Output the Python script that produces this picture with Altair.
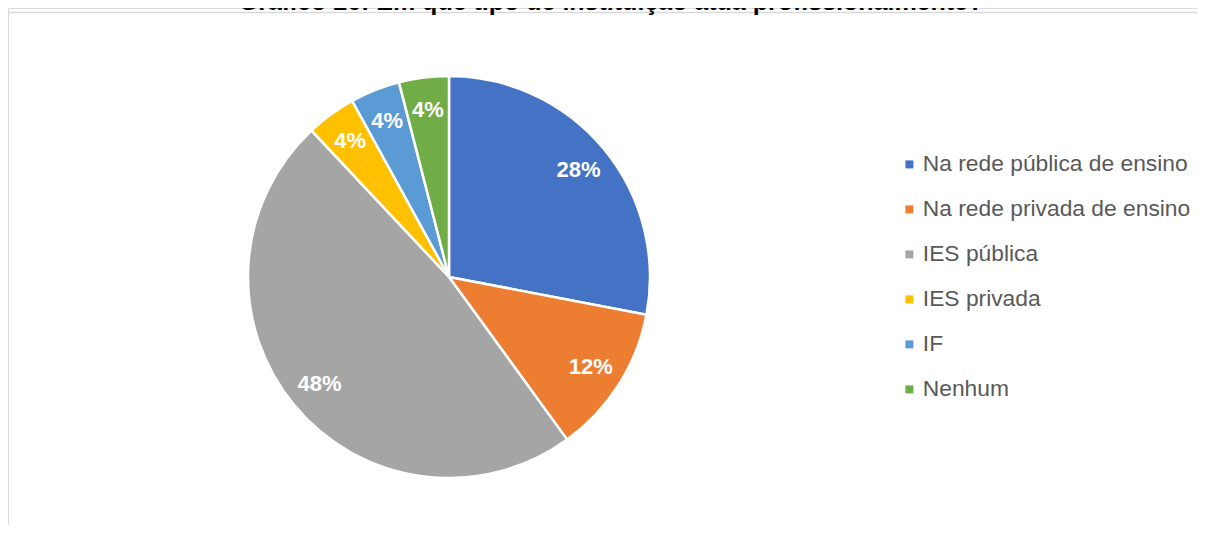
import altair as alt
import pandas as pd

title_text = "Gráfico 26: Em que tipo de instituição atua profissionalmente?"
categories = ["Na rede pública de ensino", "Na rede privada de ensino", "IES pública",
              "IES privada", "IF", "Nenhum"]
values = [28, 12, 48, 4, 4, 4]
labels = ["28%", "12%", "48%", "4%", "4%", "4%"]
colors = ["#4472C4", "#ED7D31", "#A5A5A5", "#FFC000", "#5B9BD5", "#70AD47"]

df = pd.DataFrame({"cat": categories, "val": values, "lab": labels,
                   "idx": list(range(len(categories)))})

W, H = 1189, 517
CX, CY, R = 441, 269, 201
FONT = "Liberation Sans"

base = alt.Chart(df)

pie = base.mark_arc(outerRadius=R, stroke="white", strokeWidth=2.5).encode(
    theta=alt.Theta("val:Q", stack=True),
    color=alt.Color("cat:N", scale=alt.Scale(domain=categories, range=colors),
                    sort=categories,
                    legend=alt.Legend(title=None, orient="none", legendX=890, legendY=145,
                                      symbolType="square", symbolSize=64,
                                      symbolStrokeWidth=0,
                                      labelFont=FONT, labelFontSize=22.8,
                                      labelColor="#595959", rowPadding=21,
                                      labelOffset=2, labelLimit=0, padding=0)),
    order=alt.Order("idx:Q"),
    x=alt.value(CX), y=alt.value(CY),
)

text = base.mark_text(radius=168, font=FONT, fontSize=22, fontWeight="bold",
                      color="white", align="center", baseline="middle").encode(
    theta=alt.Theta("val:Q", stack=True),
    order=alt.Order("idx:Q"),
    text="lab:N",
    x=alt.value(CX), y=alt.value(CY),
)

tdf = pd.DataFrame({"t": [title_text]})
title = alt.Chart(tdf).mark_text(font=FONT, fontSize=25, fontWeight="bold",
                                  color="#000000", align="center",
                                  baseline="alphabetic").encode(
    text="t:N", x=alt.value(603), y=alt.value(2))

frame_h = alt.Chart(tdf).mark_rule(color="#d9d9d9", strokeWidth=1.5).encode(
    x=alt.value(-1), x2=alt.value(W + 10), y=alt.value(4.5))
frame_v = alt.Chart(tdf).mark_rule(color="#d9d9d9", strokeWidth=1.5).encode(
    x=alt.value(0), y=alt.value(4.5), y2=alt.value(H + 10))

chart = alt.layer(frame_h, frame_v, title, pie, text).properties(
    width=W, height=H, padding=0, autosize=alt.AutoSizeParams(type="none")
).configure_view(stroke=None).configure(background="white")

chart.save("out.html", embed_options={"renderer": "svg", "actions": False})
